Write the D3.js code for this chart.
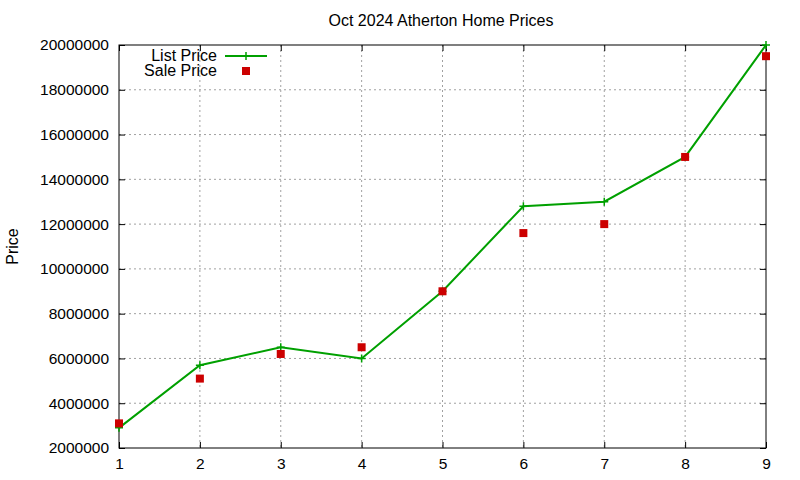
<!DOCTYPE html>
<html><head><meta charset="utf-8">
<script src="https://cdn.jsdelivr.net/npm/d3@7"></script>
<style>body{margin:0;background:#fff}text{font-family:"Liberation Sans",Arial,sans-serif;font-size:16px}</style>
</head><body><svg id="c" width="800" height="480"></svg>
<script>
const months = [1, 2, 3, 4, 5, 6, 7, 8, 9]
const listPrice = [2900000, 5700000, 6500000, 6000000, 9000000, 12800000, 13000000, 15000000, 20000000]
const salePrice = [3100000, 5100000, 6200000, 6500000, 9000000, 11600000, 12000000, 15000000, 19500000]
const yTicks = [2000000, 4000000, 6000000, 8000000, 10000000, 12000000, 14000000, 16000000, 18000000, 20000000]

const margin = {top: 45, right: 34, bottom: 32, left: 119}
const width = 800 - margin.left - margin.right,
    height = 480 - margin.top - margin.bottom

const svg = d3.select("#c").append("g")
    .attr("transform", "translate(" + margin.left + "," + margin.top + ")")

const x = d3.scaleLinear().domain([1, 9]).range([0, width])
const y = d3.scaleLinear().domain([2000000, 20000000]).range([height, 0])

// grid
svg.append("g").selectAll("line").data(months.slice(1, -1)).join("line")
    .attr("x1", d => x(d)).attr("x2", d => x(d)).attr("y1", 0).attr("y2", height)
    .attr("stroke", "#a0a0a0").attr("stroke-dasharray", "2,3")
svg.append("g").selectAll("line").data(yTicks.slice(1, -1)).join("line")
    .attr("y1", d => y(d)).attr("y2", d => y(d)).attr("x1", 0).attr("x2", width)
    .attr("stroke", "#a0a0a0").attr("stroke-dasharray", "2,3")

// axes with mirrored inward ticks
const ax = (g, axis) => { g.call(axis); g.select(".domain").remove(); g.selectAll("text").attr("fill", "#000").style("font-size", "15.5px") }
svg.append("g").attr("transform", "translate(0," + height + ")")
    .call(g => ax(g, d3.axisBottom(x).tickValues(months).tickFormat(d3.format("d")).tickSizeInner(-6).tickSizeOuter(0).tickPadding(10)))
svg.append("g")
    .call(g => ax(g, d3.axisTop(x).tickValues(months).tickFormat("").tickSizeInner(-6).tickSizeOuter(0)))
svg.append("g")
    .call(g => ax(g, d3.axisLeft(y).tickValues(yTicks).tickFormat(d3.format("d")).tickSizeInner(-6).tickSizeOuter(0).tickPadding(10)))
svg.append("g").attr("transform", "translate(" + width + ",0)")
    .call(g => ax(g, d3.axisRight(y).tickValues(yTicks).tickFormat("").tickSizeInner(-6).tickSizeOuter(0)))

svg.append("rect").attr("width", width).attr("height", height)
    .attr("fill", "none").attr("stroke", "#000")

// list price line
svg.append("path").datum(months)
    .attr("fill", "none").attr("stroke", "#00a000").attr("stroke-width", 2)
    .attr("d", d3.line().x(d => x(d)).y((d, i) => y(listPrice[i])))
const plus = (g, px, py) => g.append("path")
    .attr("d", `M${px - 4},${py}H${px + 4}M${px},${py - 4}V${py + 4}`)
    .attr("stroke", "#00a000").attr("stroke-width", 1.5)
months.forEach((d, i) => plus(svg, x(d), y(listPrice[i])))

// sale price points
svg.append("g").selectAll("rect").data(months).join("rect")
    .attr("x", d => x(d) - 4).attr("y", (d, i) => y(salePrice[i]) - 4)
    .attr("width", 8).attr("height", 8).attr("fill", "#cc0000")

// legend
svg.append("text").attr("x", 98).attr("y", 16).attr("text-anchor", "end").text("List Price")
svg.append("line").attr("x1", 106).attr("x2", 148).attr("y1", 11).attr("y2", 11)
    .attr("stroke", "#00a000").attr("stroke-width", 2)
plus(svg, 127, 11)
svg.append("text").attr("x", 98).attr("y", 31).attr("text-anchor", "end").text("Sale Price")
svg.append("rect").attr("x", 123).attr("y", 22).attr("width", 8).attr("height", 8).attr("fill", "#cc0000")

// titles
d3.select("#c").append("text").attr("x", 441).attr("y", 26).attr("text-anchor", "middle").text("Oct 2024 Atherton Home Prices")
d3.select("#c").append("text").attr("transform", "translate(18," + (margin.top + height / 2) + ") rotate(-90)")
    .attr("text-anchor", "middle").text("Price")
</script></body></html>
